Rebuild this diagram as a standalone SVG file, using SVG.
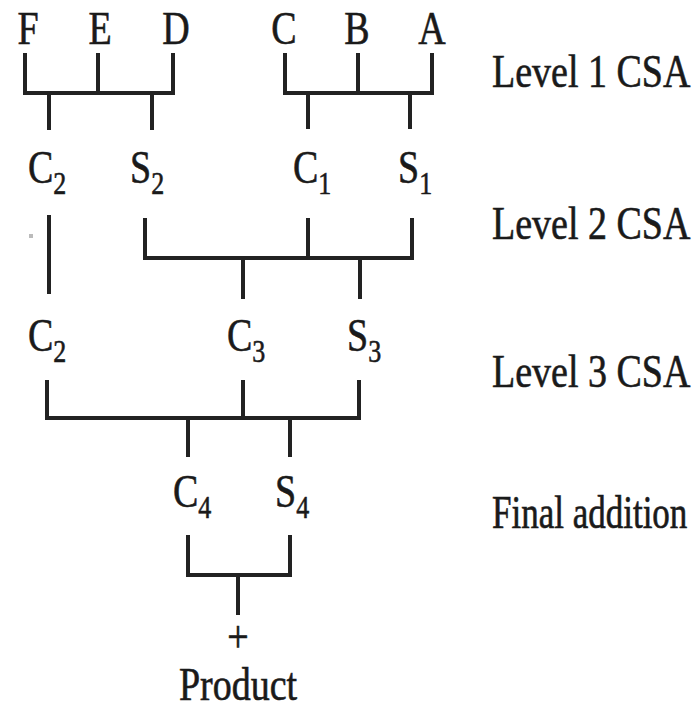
<svg xmlns="http://www.w3.org/2000/svg" width="699" height="711" viewBox="0 0 699 711">
<style>
text{font-family:"Liberation Serif","Times New Roman",serif;font-size:38px;fill:#1a1a1a;stroke:#1a1a1a;stroke-width:0.5}
.m{text-anchor:middle}
.sub{font-size:26px}
.w{fill:none;stroke:#222;stroke-width:4;stroke-linecap:square}
</style>
<rect width="699" height="711" fill="#fff"/>
<g id="connectors" class="w">
<path class="w" d="M25,55 V93 H173 V55 M98,55 V93 M49,93 V128 M152,93 V128"/>
<path class="w" d="M285,55 V93 H432 V55 M358,55 V93 M308,93 V127 M410,93 V127"/>
<path class="w" d="M49,217 V292"/>
<path class="w" d="M145,220 V258 H412 V220 M308,220 V258 M243,258 V297 M360,258 V297"/>
<path class="w" d="M47,382 V418 H359 V382 M243,382 V418 M188,418 V455 M290,418 V455"/>
<path class="w" d="M188,537 V575 H290 V537 M238,575 V613"/>
</g>
<rect x="29" y="234" width="4" height="4" fill="#bbb"/>
<g id="F" transform="translate(28,44) scale(1,1.2)"><text class="m">F</text></g>
<g id="E" transform="translate(100,44) scale(1,1.2)"><text class="m">E</text></g>
<g id="D" transform="translate(176,44) scale(1,1.2)"><text class="m">D</text></g>
<g id="C" transform="translate(284,44) scale(1,1.2)"><text class="m">C</text></g>
<g id="B" transform="translate(357,44) scale(1,1.2)"><text class="m">B</text></g>
<g id="A" transform="translate(432,44) scale(1,1.2)"><text class="m">A</text></g>
<g id="C2a" transform="translate(28,183) scale(1,1.2)"><text>C<tspan class="sub" dy="9">2</tspan></text></g>
<g id="S2" transform="translate(130,183) scale(1,1.2)"><text>S<tspan class="sub" dy="9">2</tspan></text></g>
<g id="C1" transform="translate(293,183) scale(1,1.2)"><text>C<tspan class="sub" dy="9">1</tspan></text></g>
<g id="S1" transform="translate(398,183) scale(1,1.2)"><text>S<tspan class="sub" dy="9">1</tspan></text></g>
<g id="C2b" transform="translate(28,351) scale(1,1.2)"><text>C<tspan class="sub" dy="9">2</tspan></text></g>
<g id="C3" transform="translate(227,351) scale(1,1.2)"><text>C<tspan class="sub" dy="9">3</tspan></text></g>
<g id="S3" transform="translate(347,351) scale(1,1.2)"><text>S<tspan class="sub" dy="9">3</tspan></text></g>
<g id="C4" transform="translate(173,507) scale(1,1.2)"><text>C<tspan class="sub" dy="9">4</tspan></text></g>
<g id="S4" transform="translate(275,507) scale(1,1.2)"><text>S<tspan class="sub" dy="9">4</tspan></text></g>
<g id="plus" transform="translate(238,652) scale(1,1.2)"><text class="m">+</text></g>
<g id="product" transform="translate(238,700) scale(1,1.2)"><text class="m">Product</text></g>
<g id="level1" transform="translate(492,87) scale(1,1.2)"><text>Level 1 CSA</text></g>
<g id="level2" transform="translate(492,239) scale(1,1.2)"><text>Level 2 CSA</text></g>
<g id="level3" transform="translate(492,387) scale(1,1.2)"><text>Level 3 CSA</text></g>
<g id="final" transform="translate(492,528) scale(1,1.3)"><text style="font-size:35px">Final addition</text></g>
</svg>
